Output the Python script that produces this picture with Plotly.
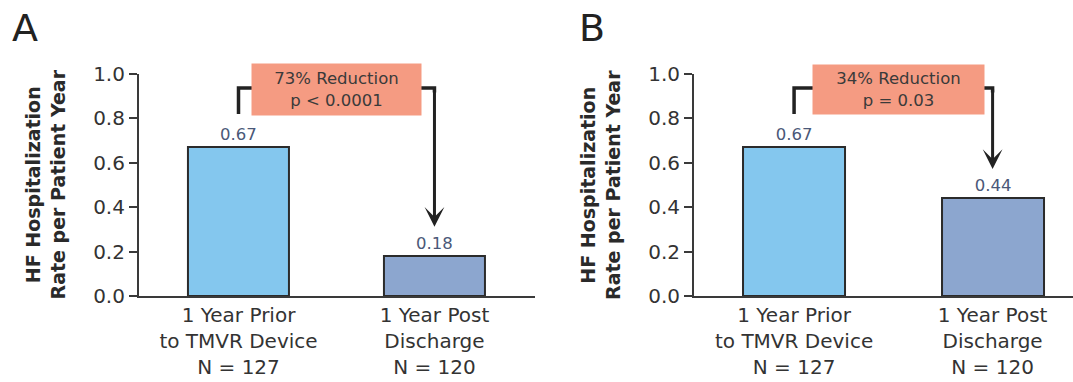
import plotly.graph_objects as go

categories = ["1 Year Prior<br>to TMVR Device<br>N = 127", "1 Year Post<br>Discharge<br>N = 120"]
values_a = [0.67, 0.18]
values_b = [0.67, 0.44]
panel_labels = ["A", "B"]
box_texts = ["73% Reduction<br>p < 0.0001", "34% Reduction<br>p = 0.03"]
y_ticks = [0.0, 0.2, 0.4, 0.6, 0.8, 1.0]
y_title = "HF Hospitalization<br>Rate per Patient Year"

bar_colors = ["#84C7EE", "#8CA6CF"]
FONT = "DejaVu Sans"
TXT = "#333333"
AX = "#3a3a3a"

fig = go.Figure()
xpos = [0, 1]

panels = [
    dict(vals=values_a, xa="x", ya="y", dom=[0.1295, 0.4986], rng=[-0.508, 1.513],
         width=0.518, box_x=0.5, box_w=167, box_h=49, title_x=45.5 / 1073, letter_x=25 / 1073),
    dict(vals=values_b, xa="x2", ya="y2", dom=[0.6468, 1.0], rng=[-0.504, 1.405],
         width=0.514, box_x=0.526, box_w=169, box_h=47, title_x=600 / 1073, letter_x=592 / 1073),
]

for i, p in enumerate(panels):
    fig.add_trace(go.Bar(
        x=xpos, y=p["vals"], width=p["width"], xaxis=p["xa"], yaxis=p["ya"],
        marker=dict(color=bar_colors, line=dict(color="#2b2b2b", width=2)),
        text=[f"{v:.2f}" for v in p["vals"]], textposition="outside",
        textfont=dict(family=FONT, size=16.5, color="#4a5878"), cliponaxis=False,
        hoverinfo="skip",
    ))
    sfx = "" if i == 0 else str(i + 1)
    fig.update_layout(**{
        "xaxis" + sfx: dict(domain=p["dom"], range=p["rng"], anchor="y" + sfx,
                            tickvals=xpos, ticktext=categories, showline=True,
                            linecolor=AX, linewidth=2, ticks="", showgrid=False,
                            zeroline=False, automargin=False,
                            tickfont=dict(family=FONT, size=20, color=TXT)),
        "yaxis" + sfx: dict(domain=[0.2251, 0.8063], range=[0, 1], anchor="x" + sfx,
                            tickvals=y_ticks, tickformat=".1f", showline=True,
                            linecolor=AX, linewidth=2, ticks="outside", ticklen=8,
                            tickwidth=2, tickcolor=AX, showgrid=False, zeroline=False,
                            automargin=False,
                            tickfont=dict(family=FONT, size=20, color=TXT)),
    })
    top = 0.937
    v0, v1 = p["vals"]
    # bracket
    fig.add_shape(type="path", xref=p["xa"], yref=p["ya"],
                  path=f"M {xpos[0]},{v0 + 0.15} V {top} H {xpos[1]} V {top - 0.02}",
                  line=dict(color="#222222", width=3.5))
    # arrow
    fig.add_annotation(x=xpos[1], y=v1 + 0.132, ax=xpos[1], ay=top, xref=p["xa"], yref=p["ya"],
                       axref=p["xa"], ayref=p["ya"], showarrow=True, arrowhead=3,
                       arrowsize=1.1, arrowwidth=3, arrowcolor="#222222", text="")
    # box
    fig.add_annotation(x=p["box_x"], y=0.93, xref=p["xa"], yref=p["ya"], text=box_texts[i],
                       showarrow=False, bgcolor="#F59B82", width=p["box_w"], height=p["box_h"],
                       font=dict(family=FONT, size=16.5, color="#3a3a3a"), align="center")
    # y title
    fig.add_annotation(x=p["title_x"], y=0.5, xref="paper", yref=p["ya"] + " domain",
                       text=f"<b>{y_title}</b>", textangle=-90, showarrow=False,
                       xanchor="center", yanchor="middle",
                       font=dict(family=FONT, size=19, color="#2a2a2a"))
    # panel letter
    fig.add_annotation(x=p["letter_x"], y=1 - 28 / 382, xref="paper", yref="paper",
                       text=panel_labels[i], showarrow=False, xanchor="center", yanchor="middle",
                       font=dict(family=FONT, size=38, color="#222222"))

fig.update_layout(width=1073, height=382, margin=dict(l=0, r=0, t=0, b=0),
                  plot_bgcolor="white", paper_bgcolor="white", showlegend=False,
                  bargap=0)
fig.write_html("out.html")
